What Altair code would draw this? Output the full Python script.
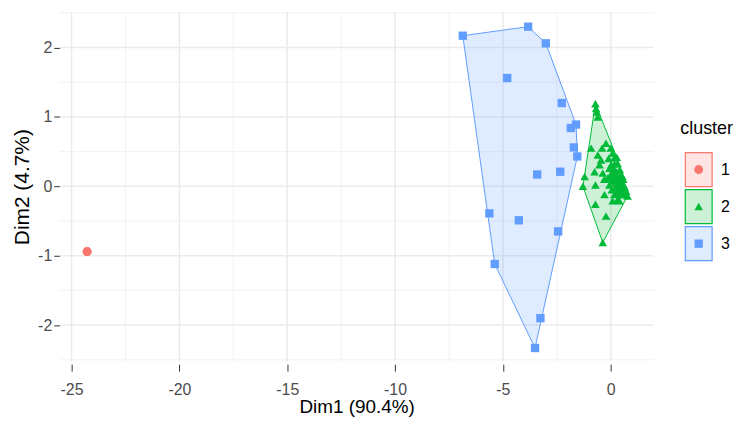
import altair as alt
import pandas as pd

# ---- data ----
clusters = ["1", "2", "3"]
colors = ["#F8766D", "#00BA38", "#619CFF"]
shapes = ["circle", "triangle-up", "square"]

c1_x = [-24.28]
c1_y = [-0.94]

c2_x = [-0.71, -0.65, -0.60, -0.68, -0.22, -0.91, -0.60, 0.09, 0.17, -0.52,
        -0.75, -1.21, -1.29, -0.71, -0.37, -0.06, 0.25, -0.29, -0.71, -0.22,
        -0.37, 0.78, 0.40, 0.55, 0.17, 0.32, 0.63, 0.09, -0.06, 0.25,
        0.48, 0.02, 0.32, -0.14, 0.71, 0.40, 0.09, -0.45, 0.20, 0.35,
        0.05, 0.50, -0.30, 0.15, 0.60, 0.28, -0.10, 0.45, 0.00, -0.40,
        0.30, 0.42, 0.58, 0.12, 0.22, 0.36, 0.50, 0.66, 0.05, 0.28,
        -0.02, 0.18, 0.44, 0.54]
c2_y = [1.19, 1.07, 1.00, 1.12, 0.62, 0.55, 0.45, 0.48, 0.41, 0.31,
        0.21, 0.14, 0.00, 0.02, 0.19, 0.26, 0.21, -0.12, -0.26, -0.43,
        -0.81, -0.14, 0.07, -0.02, -0.12, -0.19, -0.12, 0.12, 0.02, 0.14,
        0.17, 0.31, 0.33, 0.12, -0.07, -0.21, -0.21, 0.38, 0.05, -0.05,
        -0.05, 0.05, 0.10, 0.25, 0.02, 0.42, 0.40, -0.12, 0.55, 0.55,
        0.02, 0.24, 0.10, 0.20, -0.02, 0.10, -0.08, -0.02, 0.08, -0.10,
        0.16, 0.32, 0.00, 0.14]

c3_x = [-6.86, -3.83, -3.01, -4.80, -2.27, -1.61, -1.85, -1.71, -1.55, -2.34,
        -5.63, -4.26, -2.44, -5.38, -3.26, -3.51]
c3_y = [2.17, 2.30, 2.06, 1.56, 1.20, 0.89, 0.84, 0.56, 0.43, 0.21,
        -0.39, -0.49, -0.65, -1.12, -1.90, -2.33]

cent_x = [-24.28, 0.05, -3.41]
cent_y = [-0.94, 0.12, 0.17]

x_major = [-25, -20, -15, -10, -5, 0]
x_minor = [-22.5, -17.5, -12.5, -7.5, -2.5]
y_major = [-2, -1, 0, 1, 2]
y_minor = [-2.5, -1.5, -0.5, 0.5, 1.5, 2.5]

x_domain = [-25.55, 1.98]
y_domain = [-2.52, 2.51]

# ---- tables ----
pts = pd.concat([
    pd.DataFrame({"cluster": "1", "x": c1_x, "y": c1_y}),
    pd.DataFrame({"cluster": "2", "x": c2_x, "y": c2_y}),
    pd.DataFrame({"cluster": "3", "x": c3_x, "y": c3_y}),
], ignore_index=True)
cent = pd.DataFrame({"cluster": clusters, "x": cent_x, "y": cent_y})


def hull(xs, ys):
    p = sorted(set(zip(xs, ys)))
    if len(p) < 3:
        return []

    def cross(o, a, b):
        return (a[0] - o[0]) * (b[1] - o[1]) - (a[1] - o[1]) * (b[0] - o[0])
    lower, upper = [], []
    for q in p:
        while len(lower) >= 2 and cross(lower[-2], lower[-1], q) <= 0:
            lower.pop()
        lower.append(q)
    for q in reversed(p):
        while len(upper) >= 2 and cross(upper[-2], upper[-1], q) <= 0:
            upper.pop()
        upper.append(q)
    h = lower[:-1] + upper[:-1]
    return h + [h[0]]


rows = []
for c, xs, ys in [("1", c1_x, c1_y), ("2", c2_x, c2_y), ("3", c3_x, c3_y)]:
    for i, (hx, hy) in enumerate(hull(xs, ys)):
        rows.append({"cluster": c, "x": hx, "y": hy, "o": i})
hull_df = pd.DataFrame(rows)

color_scale = alt.Scale(domain=clusters, range=colors)
shape_scale = alt.Scale(domain=clusters, range=shapes)

FONT = "Liberation Sans"
x_axis = alt.Axis(values=x_major, grid=False, domain=False, ticks=True,
                  tickColor="#333333", tickSize=7, offset=3, labelPadding=10,
                  labelColor="#4D4D4D", labelFontSize=16, labelFont=FONT,
                  labelExpr="'' + datum.value",
                  title="Dim1 (90.4%)", titleFont=FONT, titleFontSize=19,
                  titleFontWeight="normal", titleColor="#000000", titlePadding=1)
y_axis = alt.Axis(values=y_major, grid=False, domain=False, ticks=True,
                  tickColor="#333333", tickSize=6, labelPadding=2,
                  labelColor="#4D4D4D", labelFontSize=16, labelFont=FONT,
                  labelExpr="'' + datum.value",
                  title="Dim2 (4.7%)", titleFont=FONT, titleFontSize=21,
                  titleFontWeight="normal", titleColor="#000000", titlePadding=5)

X = alt.X("x:Q", scale=alt.Scale(domain=x_domain, nice=False, zero=False), axis=x_axis)
Y = alt.Y("y:Q", scale=alt.Scale(domain=y_domain, nice=False, zero=False), axis=y_axis)

gx_minor = alt.Chart(pd.DataFrame({"x": x_minor})).mark_rule(
    color="#F2F2F2", strokeWidth=1).encode(x=X)
gy_minor = alt.Chart(pd.DataFrame({"y": y_minor})).mark_rule(
    color="#F2F2F2", strokeWidth=1).encode(y=Y)
gx_major = alt.Chart(pd.DataFrame({"x": x_major})).mark_rule(
    color="#EBEBEB", strokeWidth=1.5).encode(x=X)
gy_major = alt.Chart(pd.DataFrame({"y": y_major})).mark_rule(
    color="#EBEBEB", strokeWidth=1.5).encode(y=Y)

hull_layer = alt.Chart(hull_df).mark_line(strokeWidth=1, fillOpacity=0.2).encode(
    x=X, y=Y, order="o:Q",
    color=alt.Color("cluster:N", scale=color_scale, legend=None),
    fill=alt.Fill("cluster:N", scale=color_scale, legend=None),
)

pt_layer = alt.Chart(pts).mark_point(filled=True, opacity=1).encode(
    x=X, y=Y,
    color=alt.Color("cluster:N", scale=color_scale, legend=None),
    shape=alt.Shape("cluster:N", scale=shape_scale, legend=None),
    size=alt.Size("cluster:O", scale=alt.Scale(domain=clusters, range=[80, 70, 52]), legend=None),
)

cent_layer = alt.Chart(cent).mark_point(filled=True, opacity=1).encode(
    x=X, y=Y,
    color=alt.Color("cluster:N", scale=color_scale, legend=None),
    shape=alt.Shape("cluster:N", scale=shape_scale, legend=None),
    size=alt.Size("cluster:O", scale=alt.Scale(domain=clusters, range=[155, 140, 150]), legend=None),
)

main = alt.layer(gx_minor, gy_minor, gx_major, gy_major, hull_layer, pt_layer, cent_layer).properties(
    width=597, height=351)

# ---- legend panel ----
leg_df = pd.DataFrame({"cluster": clusters})
LY = alt.Y("cluster:N", scale=alt.Scale(domain=clusters, paddingInner=0.082,
                                        paddingOuter=0, range=[141.2, 249.9]), axis=None)
leg_box = alt.Chart(leg_df).mark_rect(fillOpacity=0.2, strokeWidth=1.2).encode(
    y=LY, x=alt.value(6), x2=alt.value(33),
    fill=alt.Fill("cluster:N", scale=color_scale, legend=None),
    stroke=alt.Stroke("cluster:N", scale=color_scale, legend=None),
)
leg_sym = alt.Chart(leg_df).mark_point(filled=True, opacity=1).encode(
    y=LY, x=alt.value(19.5),
    color=alt.Color("cluster:N", scale=color_scale, legend=None),
    shape=alt.Shape("cluster:N", scale=shape_scale, legend=None),
    size=alt.Size("cluster:O", scale=alt.Scale(domain=clusters, range=[85, 140, 100]), legend=None),
)
leg_txt = alt.Chart(leg_df).mark_text(align="left", baseline="middle", fontSize=16,
                                      font=FONT, color="#000000").encode(
    y=LY, x=alt.value(42), text="cluster:N")
leg_title = alt.Chart(pd.DataFrame({"t": ["cluster"]})).mark_text(
    align="left", baseline="middle", fontSize=18, font=FONT, color="#000000").encode(
    x=alt.value(1), y=alt.value(118), text="t:N")

legend = alt.layer(leg_box, leg_sym, leg_txt, leg_title).properties(width=52, height=351)

chart = alt.hconcat(main, legend, spacing=25).resolve_scale(
    x="independent", y="independent").properties(
    padding={"left": 3, "top": 2, "right": 0, "bottom": 0},
    background="#FFFFFF"
).configure_view(strokeWidth=0, stroke="transparent")

chart.save("out.html", embed_options={"renderer": "svg", "actions": False})
